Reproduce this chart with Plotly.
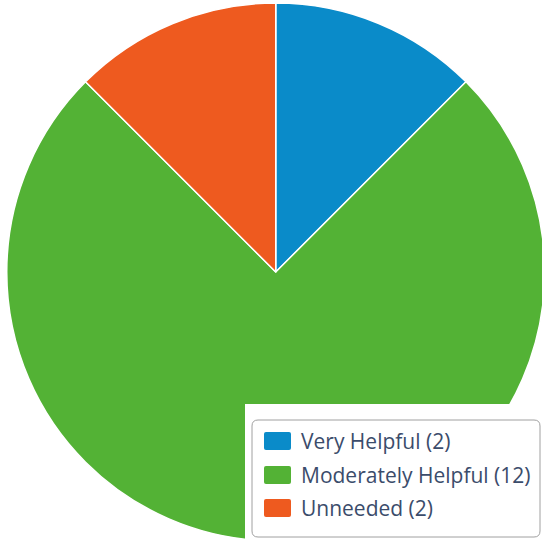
import plotly.graph_objects as go

labels = ["Very Helpful", "Moderately Helpful", "Unneeded"]
values = [2, 12, 2]
colors = ["#0a8bc9", "#53b235", "#ee5a1f"]

# figure slightly larger than the 542x540 window so the pie can bleed off the edges
W, H = 545, 541


def px(x):
    return x / W


def py(y):
    return 1 - y / H


def rounded_rect(x0, y0, x1, y1, r):
    # pixel coords -> paper path with rounded corners
    rx, ry = r / W, r / H
    X0, X1 = px(x0), px(x1)
    Y0, Y1 = py(y0), py(y1)  # Y0 top (larger), Y1 bottom
    return (f"M{X0+rx},{Y0} L{X1-rx},{Y0} Q{X1},{Y0} {X1},{Y0-ry} "
            f"L{X1},{Y1+ry} Q{X1},{Y1} {X1-rx},{Y1} "
            f"L{X0+rx},{Y1} Q{X0},{Y1} {X0},{Y1+ry} "
            f"L{X0},{Y0-ry} Q{X0},{Y0} {X0+rx},{Y0} Z")


fig = go.Figure(go.Pie(
    labels=labels,
    values=values,
    marker=dict(colors=colors, line=dict(color="white", width=1.5)),
    sort=False,
    direction="clockwise",
    rotation=0,
    textinfo="none",
    hoverinfo="label+value",
    showlegend=False,
    domain=dict(x=[6.5 / W, 1], y=[0, 1 - 3 / H]),
))

shapes = [
    dict(type="rect", xref="paper", yref="paper",
         x0=px(245), x1=1.0, y0=0.0, y1=py(404),
         fillcolor="white", line=dict(width=0), layer="above"),
    dict(type="path", xref="paper", yref="paper",
         path=rounded_rect(252, 420, 540, 537, 6),
         fillcolor="white", line=dict(color="#a0a0a0", width=1), layer="above"),
]
annotations = []
row_y = [441, 475, 508]
for i, (lab, val, col) in enumerate(zip(labels, values, colors)):
    yc = row_y[i]
    shapes.append(dict(type="path", xref="paper", yref="paper",
                       path=rounded_rect(264, yc - 9, 291, yc + 9, 2),
                       fillcolor=col, line=dict(width=0), layer="above"))
    annotations.append(dict(x=px(299), y=py(yc), xref="paper", yref="paper",
                            xanchor="left", yanchor="middle", showarrow=False,
                            text=f"{lab} ({val})",
                            font=dict(family="Open Sans", size=21, color="#3b4c6b")))

fig.update_layout(
    width=W, height=H,
    margin=dict(l=0, r=0, t=0, b=0),
    paper_bgcolor="white",
    plot_bgcolor="white",
    shapes=shapes,
    annotations=annotations,
)

fig.write_html("out.html", config={"displayModeBar": False},
               post_script="document.body.style.margin='0';document.body.style.overflow='hidden';")
